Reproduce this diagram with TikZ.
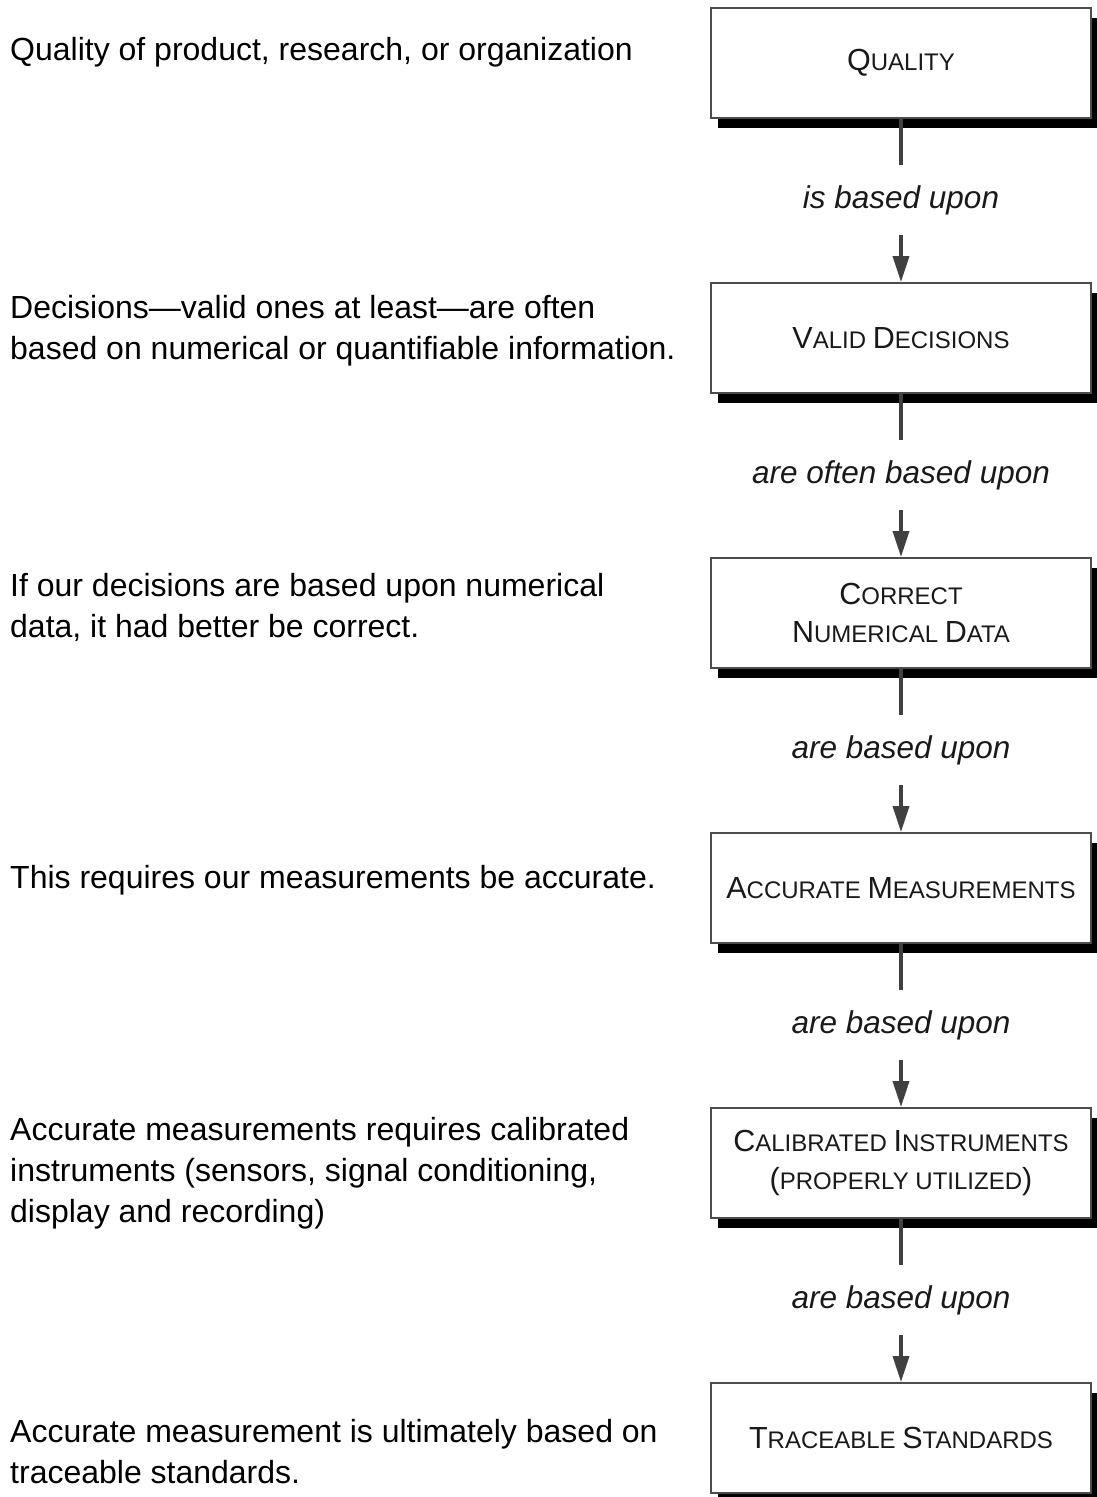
\documentclass[tikz,border=0pt]{standalone}
\usepackage{fontspec}
\setmainfont{Liberation Sans}
\usetikzlibrary{arrows.meta,shadows}

\newcommand{\bigc}[1]{{\fontsize{30.5}{38}\selectfont #1}}

\tikzset{
    stepBox/.style = {draw = black!70, line width = 2pt, fill = white,
        minimum width = 380pt, minimum height = 110pt, align = center,
        inner sep = 0pt, text = black!90,
        font = \fontsize{24}{38}\selectfont,
        drop shadow = {shadow xshift = 7pt, shadow yshift = -10pt,
            fill = black, opacity = 1}},
    linkLabel/.style = {minimum height = 70pt, inner sep = 0pt, text = black!90,
        font = \fontsize{31.5}{36}\selectfont\itshape},
    sideNote/.style = {anchor = west, align = left, inner sep = 0pt,
        text = black, font = \fontsize{32}{41}\selectfont},
    linkLine/.style = {draw = black!75, line width = 3.5pt},
}

\begin{document}
\begin{tikzpicture}[x = 1pt, y = -1pt]

    \useasboundingbox (0,0) rectangle (1097,1497);

    %% Drawing the chain of boxes
    \node [stepBox] (box1) at (901,63)   {\bigc{Q}UALITY};
    \node [stepBox] (box2) at (901,338)  {\bigc{V}ALID \bigc{D}ECISIONS};
    \node [stepBox] (box3) at (901,613)  {\bigc{C}ORRECT \\ \bigc{N}UMERICAL \bigc{D}ATA};
    \node [stepBox] (box4) at (901,888)  {\bigc{A}CCURATE \bigc{M}EASUREMENTS};
    \node [stepBox] (box5) at (901,1163) {\bigc{C}ALIBRATED \bigc{I}NSTRUMENTS \\ \bigc{(}PROPERLY UTILIZED\bigc{)}};
    \node [stepBox] (box6) at (901,1438) {\bigc{T}RACEABLE \bigc{S}TANDARDS};

    %% Drawing the labels between boxes
    \node [linkLabel] (lbl1) at (901,200)  {is based upon};
    \node [linkLabel] (lbl2) at (901,475)  {are often based upon};
    \node [linkLabel] (lbl3) at (901,750)  {are based upon};
    \node [linkLabel] (lbl4) at (901,1025) {are based upon};
    \node [linkLabel] (lbl5) at (901,1300) {are based upon};

    \foreach \i/\j in {1/2, 2/3, 3/4, 4/5, 5/6} {
        \draw [linkLine]
        (box\i.south) -- (lbl\i.north)
        ;
        \draw [linkLine, -{Triangle[width = 16pt, length = 26pt]}]
        (lbl\i.south) -- (box\j.north)
        ;
    }

    %% Drawing the notes on the left
    \node [sideNote] (note1) at (10,52)
        {Quality of product, research, or organization};
    \node [sideNote] (note2) at (10,331)
        {Decisions---valid ones at least---are often \\ based on numerical or quantifiable information.};
    \node [sideNote] (note3) at (10,607)
        {If our decisions are based upon numerical \\ data, it had better be correct.};
    \node [sideNote] (note4) at (10,880)
        {This requires our measurements be accurate.};
    \node [sideNote] (note5) at (10,1173)
        {Accurate measurements requires calibrated \\ instruments (sensors, signal conditioning, \\ display and recording)};
    \node [sideNote] (note6) at (10,1452)
        {Accurate measurement is ultimately based on \\ traceable standards.};

\end{tikzpicture}
\end{document}
